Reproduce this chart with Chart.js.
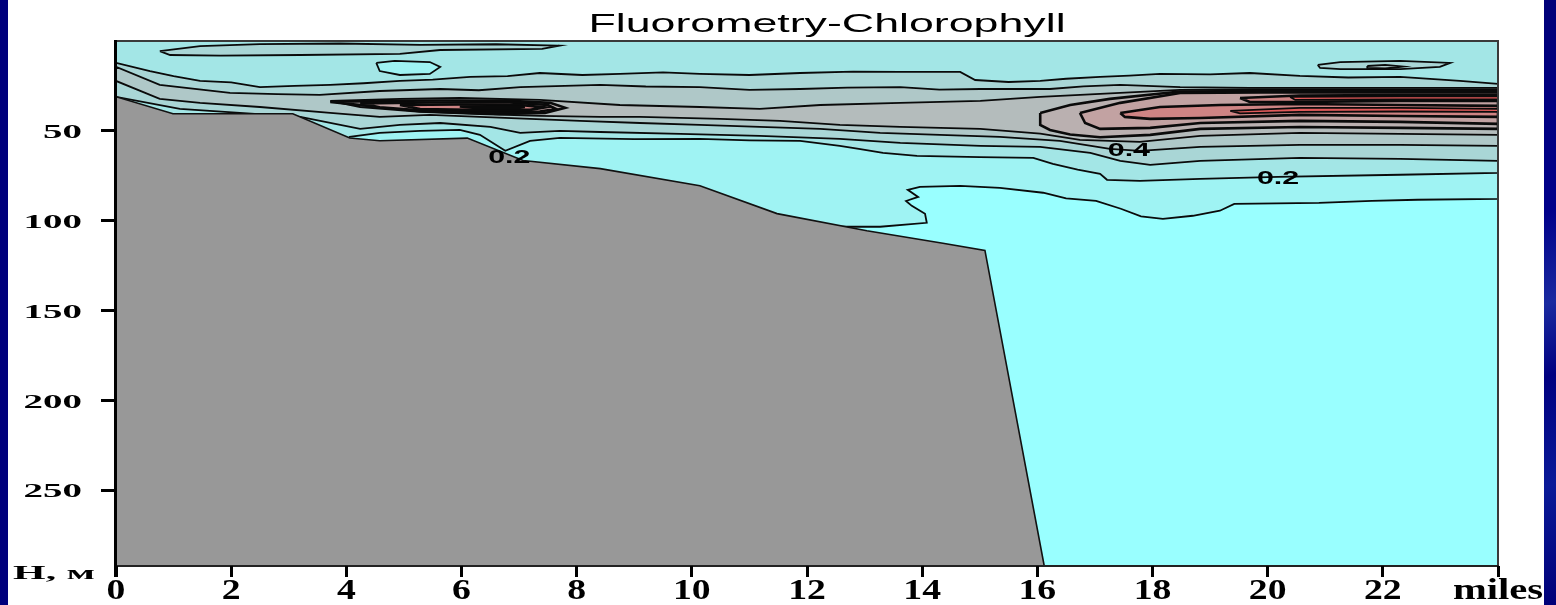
<!DOCTYPE html>
<html>
<head>
<meta charset="utf-8">
<script src="https://cdn.jsdelivr.net/npm/chart.js@4.4.1/dist/chart.umd.min.js"></script>
<style>
  html, body { margin: 0; padding: 0; width: 1556px; height: 605px; overflow: hidden; background: #00007c; }
  #panel { position: absolute; left: 8px; top: 0; width: 1536px; height: 605px; background: #ffffff; }
  #edge { position: absolute; left: 1544px; top: 0; width: 12px; height: 605px;
          background: linear-gradient(160deg, #000078 0%, #00008a 35%, #1a2aa0 50%, #000080 62%, #0a1a98 80%, #000078 100%); }
  canvas { display: block; }
</style>
</head>
<body>
<div id="panel"><canvas id="section" width="1536" height="605"></canvas></div>
<div id="edge"></div>
<script>
// Transect: distance along the section (miles) vs depth (m), chlorophyll fluorescence contours.

// Axis ticks and their labels
const xTickLabels = ['0', '2', '4', '6', '8', '10', '12', '14', '16', '18', '20', '22', 'miles'];
const yTickValues = [50, 100, 150, 200, 250];
const yTickLabels = ['50', '100', '150', '200', '250'];
const depthAxisCaption = 'H, м';
const chartTitle = 'Fluorometry-Chlorophyll';

// Sea floor profile
const seafloorMiles = [0, 0.99, 3.07, 4.06, 4.58, 6.10, 7.07, 8.41, 10.14, 11.48, 13.04, 14.36, 15.09, 16.12];
const seafloorDepth = [31, 40.5, 40.5, 54, 55.5, 54, 66.5, 71, 80.5, 96, 105.5, 112.5, 116.5, 292];

// Contour regions, [mile, depth] outlines; each region holds values above its level
const level010 = [[0,0],[24,0],[24,87.8],[22.6,88.3],[21.81,88.9],[20.89,90.0],[19.42,90.6],[19.17,94.4],[18.7,97.2],[18.18,98.9],[17.8,97.5],[17.45,93.3],[17.02,88.9],[16.5,87.5],[16.10,84.4],[15.35,81.7],[14.66,80.6],[13.96,81.1],[13.75,82.8],[13.93,86.7],[13.72,89.0],[13.82,91.7],[14.05,96.1],[14.08,101.1],[13.27,103.3],[12.57,103.3],[12.0,150],[0,150]];
const level020 = [[0,0],[24,0],[24,73.3],[22.30,74.4],[20.18,75.6],[18.83,76.7],[17.78,77.8],[17.21,77.2],[17.09,73.9],[16.7,71.5],[16.27,68.3],[15.93,65.0],[15.0,64.6],[13.91,63.9],[13.32,62.2],[12.9,60.0],[12.57,58.3],[11.88,55.6],[11.0,55.3],[10.14,54.4],[9.0,54.6],[7.71,53.9],[7.19,55.6],[6.76,61.1],[6.32,52.2],[5.97,49.4],[5.28,50.0],[4.58,51.1],[4.06,53.3],[3.5,80],[0,80]];
const lens010 = [[4.52,12.2],[4.84,11.1],[5.45,11.7],[5.63,14.4],[5.45,18.3],[4.93,18.9],[4.58,16.7]];
const lens030West = [[0.76,5.6],[1.46,2.8],[2.50,1.7],[3.89,1.4],[5.28,2.2],[6.6,1.8],[7.7,2.6],[7.4,4.4],[5.63,5.0],[4.93,7.2],[3.20,7.8],[1.81,8.1],[0.94,7.8]];
const lens030East = [[20.87,13.3],[21.26,11.7],[22.30,11.1],[23.17,12.2],[22.99,14.4],[22.30,15.6],[21.26,15.6],[20.91,15.0]];
const lens040East = [[21.73,13.9],[22.04,13.3],[22.35,14.2],[22.04,15.3],[21.73,15.0]];
const level030 = [[0,12.2],[0.59,16.7],[1.0,19.5],[1.46,22.2],[2.0,23.0],[2.50,25.6],[3.1,25.0],[3.72,24.4],[4.3,23.5],[4.93,22.2],[5.5,21.5],[6.15,20.0],[6.8,19.5],[7.36,17.8],[8.1,18.9],[8.75,18.3],[9.5,17.4],[10.14,18.3],[11.0,18.9],[11.88,17.8],[12.8,17.0],[13.62,17.2],[14.66,17.2],[14.92,21.7],[15.5,22.8],[16.05,22.2],[16.5,21.0],[17.09,20.0],[17.6,19.3],[18.13,18.3],[19.0,18.6],[19.69,17.8],[20.56,19.4],[21.4,20.3],[22.30,20.0],[23.34,22.2],[24,23.9],
  [24,66.7],[22.30,65.6],[20.56,65.0],[18.83,66.7],[17.96,68.9],[17.44,66.7],[16.92,62.2],[16.05,58.9],[15.01,58.3],[13.62,56.7],[12.57,54.4],[11.18,52.8],[9.80,51.7],[8.41,50.6],[7.71,50.0],[7.02,51.1],[6.50,47.8],[5.63,45.6],[4.93,46.7],[4.24,48.9],[3.20,42.2],[2.15,40.0],[1.11,37.8],[0,31.1]];
const level040 = [[0,14.4],[0.76,24.4],[1.98,28.9],[2.8,29.6],[3.54,30.0],[4.58,27.8],[5.63,26.7],[6.3,27.4],[7.02,25.6],[8.41,24.4],[9.2,25.3],[10.14,25.6],[11.0,27.2],[11.88,26.7],[12.7,25.9],[13.62,25.6],[14.3,27.0],[15.01,26.7],[16.22,26.7],[16.8,25.2],[17.44,24.4],[18.48,25.6],[19.69,26.1],[21.43,26.1],[24,26.1],
  [24,58.3],[22.30,57.8],[20.56,57.8],[18.83,58.9],[17.78,61.1],[17.26,60.0],[16.39,55.6],[15.35,53.3],[14.31,52.2],[13.27,51.1],[12.23,48.9],[11.18,47.8],[10.14,46.7],[9.10,45.6],[8.06,44.4],[7.19,43.3],[6.32,42.2],[5.45,41.1],[4.58,42.2],[3.72,40.0],[2.50,36.7],[1.46,34.4],[0.76,32.2],[0,22.2]];
const level050 = [[3.72,33.3],[4.93,32.2],[5.97,31.7],[7.36,32.8],[8.75,35.6],[10.14,36.7],[11.18,37.8],[12.23,35.6],[13.62,34.4],[15.01,33.3],[16.05,31.1],[17.09,29.4],[18.48,27.2],[19.87,26.9],[21.43,26.9],[24,26.9],
  [24,52.2],[22.30,51.7],[20.56,51.1],[18.83,52.8],[17.78,56.1],[16.74,55.0],[16.05,51.5],[15.01,48.9],[13.62,47.8],[12.57,46.7],[11.53,44.4],[10.49,43.3],[9.10,42.2],[8.41,42.2],[7.36,41.7],[6.32,40.6],[5.28,39.4],[4.24,36.7]];
const level060West = [[3.72,33.9],[4.58,33.3],[5.63,33.1],[6.84,33.3],[7.54,34.4],[7.80,37.2],[7.45,40.0],[6.67,40.6],[5.28,39.0],[4.30,35.8]];
const level060East = [[16.05,40.0],[16.57,35.6],[17.26,32.2],[18.48,28.1],[19.87,27.8],[21.43,27.8],[24,27.8],[24,48.9],[22.30,48.3],[20.56,47.8],[18.83,48.9],[17.96,52.2],[17.09,53.5],[16.57,52.0],[16.22,49.5],[16.05,46.7]];
const level070West = [[4.24,34.7],[5.45,34.2],[6.84,34.2],[7.50,35.6],[7.64,37.8],[7.36,39.2],[6.67,39.4],[5.45,38.9],[4.58,36.9]];
const level070East = [[16.74,40.0],[17.44,34.4],[18.48,28.9],[19.87,28.6],[21.43,28.6],[24,28.6],[24,46.1],[22.30,45.0],[20.56,44.4],[18.83,45.6],[17.96,48.3],[17.09,48.9],[16.83,45.6]];
const level080West = [[4.93,35.6],[5.97,35.3],[7.02,35.6],[7.45,36.9],[7.19,38.3],[6.15,38.3],[5.28,37.8]];
const level080EastUpper = [[19.52,31.7],[20.56,30.3],[22.30,30.0],[24,30.0],[24,33.3],[22.30,33.3],[20.56,33.9],[19.69,33.9]];
const level080EastLower = [[17.44,40.0],[18.13,36.7],[19.17,35.6],[20.56,35.0],[22.30,35.6],[24,36.1],[24,42.2],[22.30,41.7],[20.56,41.1],[18.83,42.8],[17.96,43.3],[17.52,42.2]];
const level090West = [[5.97,36.4],[6.50,36.4],[7.10,36.7],[6.93,37.5],[6.32,37.5]];
const level090Upper = [[20.39,31.1],[22.30,30.8],[24,30.8],[24,32.5],[22.30,32.5],[20.48,32.8]];
const level090Lower = [[19.35,38.9],[20.56,37.2],[22.30,37.2],[24,37.8],[24,39.4],[22.30,39.2],[20.56,39.4],[19.52,40.3]];

// Contour value labels placed on their lines
const contourLabelText = ['0.2', '0.4', '0.2'];
const contourLabelMile = [6.83, 17.59, 20.18];
const contourLabelDepth = [63.9, 60.0, 75.6];

// Fill colours per contour band
const bandColor = {
  below: '#99ffff', c010: '#9ff3f3', c020: '#a3e6e6', c030: '#a9d6d6', c040: '#afc8c8',
  c050: '#b4bcbc', c060: '#bab0b0', c070: '#c2a2a2', c080: '#cf8484', c090: '#e25a5a',
  seafloor: '#989898'
};

// Painting order: lowest level first; the high-gradient core gets heavier outlines
const regions = [
  { pts: level010, color: bandColor.c010 },
  { pts: level020, color: bandColor.c020 },
  { pts: lens010, color: bandColor.c010 },
  { pts: lens030West, color: bandColor.c030 },
  { pts: lens030East, color: bandColor.c030 },
  { pts: lens040East, color: bandColor.c040 },
  { pts: level030, color: bandColor.c030 },
  { pts: level040, color: bandColor.c040 },
  { pts: level050, color: bandColor.c050 },
  { pts: level060West, color: bandColor.c060, core: true },
  { pts: level060East, color: bandColor.c060, core: true },
  { pts: level070West, color: bandColor.c070, core: true },
  { pts: level070East, color: bandColor.c070, core: true },
  { pts: level080West, color: bandColor.c080, core: true },
  { pts: level080EastUpper, color: bandColor.c080, core: true },
  { pts: level080EastLower, color: bandColor.c080, core: true },
  { pts: level090West, color: bandColor.c090, core: true },
  { pts: level090Upper, color: bandColor.c090 },
  { pts: level090Lower, color: bandColor.c090 }
];

const datasets = regions.map((r, i) => {
  const closed = r.pts.concat([r.pts[0]]);
  return {
    data: closed.map(([m, d]) => ({ x: m, y: d })),
    fill: 'shape',
    backgroundColor: r.color,
    borderColor: '#0a0a0a',
    borderWidth: r.core ? 2.6 : 1.8,
    pointRadius: 0,
    tension: 0,
    order: regions.length + 1 - i
  };
});

datasets.push({
  data: seafloorMiles.map((m, i) => ({ x: m, y: seafloorDepth[i] })),
  fill: { value: 292 },
  backgroundColor: bandColor.seafloor,
  borderColor: '#111111',
  borderWidth: 1.6,
  pointRadius: 0,
  tension: 0,
  order: 0
});

// Background of the plotting area (values below the lowest contour) and frame
const areaPlugin = {
  id: 'areaBackground',
  beforeDatasetsDraw(chart) {
    const { ctx, chartArea: a } = chart;
    ctx.save();
    ctx.fillStyle = bandColor.below;
    ctx.fillRect(a.left, a.top, a.right - a.left, a.bottom - a.top);
    ctx.restore();
  },
  afterDatasetsDraw(chart) {
    const { ctx, chartArea: a } = chart;
    ctx.save();
    ctx.lineCap = 'butt';
    ctx.strokeStyle = '#3a3a3a';
    ctx.lineWidth = 2;
    ctx.beginPath();
    ctx.moveTo(a.left, a.top); ctx.lineTo(a.right, a.top); ctx.lineTo(a.right, a.bottom);
    ctx.stroke();
    ctx.strokeStyle = '#222';
    ctx.beginPath();
    ctx.moveTo(a.left, a.bottom); ctx.lineTo(a.right + 1, a.bottom);
    ctx.stroke();
    ctx.strokeStyle = '#000';
    ctx.lineWidth = 3;
    ctx.beginPath();
    ctx.moveTo(a.left - 0.5, a.top - 1); ctx.lineTo(a.left - 0.5, a.bottom + 11);
    ctx.stroke();
    ctx.restore();
  }
};

// Horizontally widened lettering
function widenedText(ctx, text, px, py, font, sx, align) {
  ctx.save();
  ctx.font = font;
  ctx.fillStyle = '#000';
  ctx.textBaseline = 'alphabetic';
  ctx.textAlign = 'left';
  const w = ctx.measureText(text).width * sx;
  const left = align === 'center' ? px - w / 2 : (align === 'right' ? px - w : px);
  ctx.translate(left, py);
  ctx.scale(sx, 1);
  ctx.fillText(text, 0, 0);
  ctx.restore();
}

const textPlugin = {
  id: 'sectionText',
  afterDraw(chart) {
    const { ctx, chartArea: a, scales: { x, y } } = chart;
    widenedText(ctx, chartTitle, (a.left + a.right) / 2 + 20, a.top - 9, '26px "Liberation Sans"', 1.72, 'center');
    x.ticks.forEach((t, i) => {
      const label = xTickLabels[i];
      if (label === undefined) return;
      const sx = label === 'miles' ? 1.4 : 1.3;
      widenedText(ctx, label, x.getPixelForValue(t.value), a.bottom + 33, 'bold 29px "Liberation Serif"', sx, 'center');
    });
    yTickValues.forEach((v, i) => {
      widenedText(ctx, yTickLabels[i], a.left - 34, y.getPixelForValue(v) + 7, 'bold 19px "Liberation Serif"', 2.05, 'right');
    });
    widenedText(ctx, depthAxisCaption, a.left - 21, a.bottom + 13, 'bold 19px "Liberation Serif"', 2.2, 'right');
    contourLabelText.forEach((txt, i) => {
      widenedText(ctx, txt, x.getPixelForValue(contourLabelMile[i]), y.getPixelForValue(contourLabelDepth[i]) + 7,
        'bold 19px "Liberation Sans"', 1.6, 'center');
    });
  }
};

new Chart(document.getElementById('section'), {
  type: 'line',
  data: { datasets },
  options: {
    responsive: false,
    animation: false,
    events: [],
    layout: { padding: { top: 41, right: 46, left: 0, bottom: 0 } },
    plugins: { legend: { display: false }, tooltip: { enabled: false }, title: { display: false } },
    scales: {
      x: {
        type: 'linear', min: 0, max: 24,
        ticks: { stepSize: 2, display: false },
        grid: { drawOnChartArea: false, drawTicks: true, tickLength: 11, tickWidth: 3, tickColor: '#000', z: 1 },
        border: { display: false },
        afterFit(s) { s.height = 39; }
      },
      y: {
        type: 'linear', reverse: true, min: 0, max: 292,
        ticks: { display: false },
        afterBuildTicks(s) { s.ticks = yTickValues.map(v => ({ value: v })); },
        grid: { drawOnChartArea: false, drawTicks: true, tickLength: 15, tickWidth: 3, tickColor: '#000', z: 1 },
        border: { display: false },
        afterFit(s) { s.width = 108; }
      }
    }
  },
  plugins: [areaPlugin, textPlugin]
});
</script>
</body>
</html>
